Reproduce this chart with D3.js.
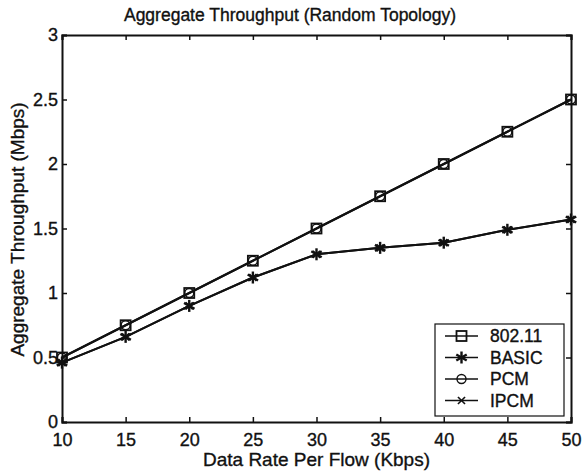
<!DOCTYPE html>
<meta charset="utf-8">
<script src="https://d3js.org/d3.v7.min.js"></script>
<style>
  body { margin: 0; background: #fff; }
  text { font-family: "Liberation Sans", Arial, sans-serif; fill: #111; stroke: #111; stroke-width: 0.35px; }
</style>
<div id="chart"></div>
<script>
  // data
  var rates = [10, 15, 20, 25, 30, 35, 40, 45, 50];
  var seriesNames = ["802.11", "BASIC", "PCM", "IPCM"];
  var thr80211 = [0.50, 0.75, 1.00, 1.25, 1.50, 1.75, 2.00, 2.25, 2.50];
  var thrBasic = [0.46, 0.66, 0.90, 1.12, 1.30, 1.35, 1.39, 1.49, 1.57];
  var thrPcm   = [0.50, 0.75, 1.00, 1.25, 1.50, 1.75, 2.00, 2.25, 2.50];
  var thrIpcm  = [0.46, 0.66, 0.90, 1.12, 1.30, 1.35, 1.39, 1.49, 1.57];
  var xTicks = [10, 15, 20, 25, 30, 35, 40, 45, 50];
  var yTicks = [0, 0.5, 1, 1.5, 2, 2.5, 3];

  var series = [
    { name: seriesNames[0], values: thr80211, marker: "square" },
    { name: seriesNames[1], values: thrBasic, marker: "star" },
    { name: seriesNames[2], values: thrPcm, marker: "circle" },
    { name: seriesNames[3], values: thrIpcm, marker: "cross" }
  ];

  var margin = {top: 35, right: 11, bottom: 50, left: 62};
  var W = 582, H = 472;
  var width = W - margin.left - margin.right;
  var height = H - margin.top - margin.bottom;

  var svg = d3.select("#chart").append("svg")
      .attr("width", W)
      .attr("height", H);

  var g = svg.append("g")
      .attr("transform", "translate(" + margin.left + "," + margin.top + ")");

  var x = d3.scaleLinear().domain([10, 50]).range([0, width]);
  var y = d3.scaleLinear().domain([0, 3]).range([height, 0]);

  // axes, ticks pointing inward on all four sides
  g.append("g")
    .attr("transform", "translate(0," + height + ")")
    .call(d3.axisBottom(x).tickValues(xTicks).tickSize(-5).tickPadding(11).tickFormat(d3.format("d")));
  g.append("g")
    .call(d3.axisTop(x).tickValues(xTicks).tickSize(-5).tickFormat(""));
  g.append("g")
    .call(d3.axisLeft(y).tickValues(yTicks).tickSize(-5).tickPadding(4).tickFormat(d3.format("")));
  g.append("g")
    .attr("transform", "translate(" + width + ",0)")
    .call(d3.axisRight(y).tickValues(yTicks).tickSize(-5).tickFormat(""));

  g.selectAll(".domain").attr("stroke", "#111").attr("stroke-width", 2);
  g.selectAll(".tick line").attr("stroke", "#111").attr("stroke-width", 1.5);
  g.selectAll(".tick text").style("font-size", "18px").style("font-family", "'Liberation Sans', Arial, sans-serif").attr("fill", "#111");

  // lines
  var line = d3.line()
    .x(function(d, i) { return x(rates[i]); })
    .y(function(d) { return y(d); });

  series.forEach(function(s) {
    g.append("path")
      .datum(s.values)
      .attr("fill", "none")
      .attr("stroke", "#111")
      .attr("stroke-width", 2)
      .attr("d", line);
  });

  function drawMarker(sel, type, cx, cy) {
    if (type === "square") {
      sel.append("rect").attr("x", cx - 5).attr("y", cy - 5).attr("width", 10).attr("height", 10)
        .attr("fill", "none").attr("stroke", "#111").attr("stroke-width", 1.8);
    } else if (type === "circle") {
      sel.append("circle").attr("cx", cx).attr("cy", cy).attr("r", 4.5)
        .attr("fill", "none").attr("stroke", "#111").attr("stroke-width", 1.4);
    } else if (type === "star") {
      [0, 60, 120].forEach(function(a) {
        var r = a * Math.PI / 180;
        sel.append("line")
          .attr("x1", cx - 6 * Math.sin(r)).attr("y1", cy - 6 * Math.cos(r))
          .attr("x2", cx + 6 * Math.sin(r)).attr("y2", cy + 6 * Math.cos(r))
          .attr("stroke", "#111").attr("stroke-width", 2.4);
      });
    } else if (type === "cross") {
      [45, 135].forEach(function(a) {
        var r = a * Math.PI / 180;
        sel.append("line")
          .attr("x1", cx - 5 * Math.sin(r)).attr("y1", cy - 5 * Math.cos(r))
          .attr("x2", cx + 5 * Math.sin(r)).attr("y2", cy + 5 * Math.cos(r))
          .attr("stroke", "#111").attr("stroke-width", 1.6);
      });
    }
  }

  series.forEach(function(s) {
    var mg = g.append("g");
    s.values.forEach(function(v, i) {
      drawMarker(mg, s.marker, x(rates[i]), y(v));
    });
  });

  // legend
  var lg = svg.append("g").attr("transform", "translate(435,324)");
  lg.append("rect").attr("width", 129).attr("height", 92)
    .attr("fill", "#fff").attr("stroke", "#111").attr("stroke-width", 1.2);
  series.forEach(function(s, i) {
    var ly = 12 + i * 21.5;
    lg.append("line").attr("x1", 10).attr("x2", 43).attr("y1", ly).attr("y2", ly)
      .attr("stroke", "#111").attr("stroke-width", 1.6);
    drawMarker(lg, s.marker, 26.5, ly);
    lg.append("text").attr("x", 55).attr("y", ly + 6)
      .style("font-size", "17.5px").text(s.name);
  });

  // title and axis labels
  svg.append("text")
    .attr("x", 290).attr("y", 21)
    .attr("text-anchor", "middle")
    .style("font-size", "17.5px")
    .text("Aggregate Throughput (Random Topology)");

  svg.append("text")
    .attr("x", margin.left + width / 2).attr("y", 466)
    .attr("text-anchor", "middle")
    .style("font-size", "19px")
    .text("Data Rate Per Flow (Kbps)");

  svg.append("text")
    .attr("transform", "translate(24," + (margin.top + height / 2 + 1) + ") rotate(-90)")
    .attr("text-anchor", "middle")
    .style("font-size", "19px")
    .text("Aggregate Throughput (Mbps)");
</script>
